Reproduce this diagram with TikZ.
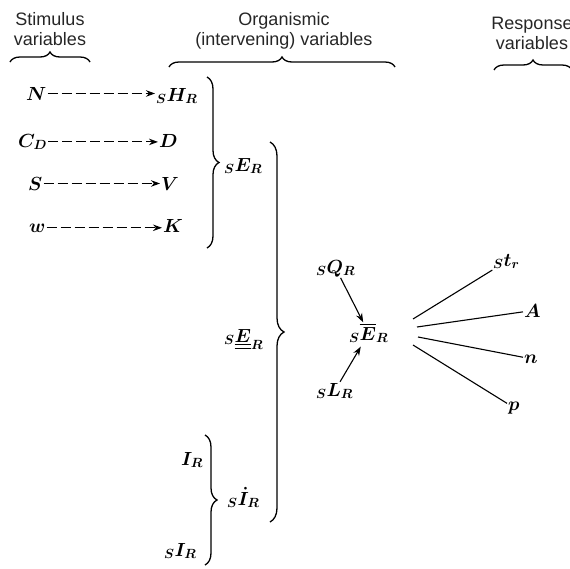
\RequirePackage{fix-cm}
\documentclass[tikz,border=0pt]{standalone}
\usepackage{amsmath}
\usepackage{fontspec}
\newfontfamily\headfont{Liberation Sans}
\usetikzlibrary{arrows.meta,decorations.pathreplacing}

\begin{document}
\begin{tikzpicture}[x=1pt,y=-1pt,>={Stealth[length=9pt,width=6.5pt]},
  var/.style={inner sep=1pt,font=\fontsize{19}{23}\selectfont\boldmath},
  hdr/.style={inner sep=0pt,align=center,anchor=north,text=black!85,font=\headfont\fontsize{18}{20}\selectfont},
  dashto/.style={->,dash pattern=on 10pt off 4pt,line width=1.1pt},
  curly/.style={decorate,decoration={brace,amplitude=#1},line width=1.3pt},
  curly/.default=10]
\useasboundingbox (0,0) rectangle (570,568);

% headings
\node[hdr] (stim) at (50,12) {Stimulus\\variables};
\node[hdr] (org) at (284,12) {Organismic\\(intervening)\ variables};
\node[hdr] (resp) at (532,17) {Response\\variables};
\draw[curly] (10,62) -- (90,62);
\draw[curly] (169,67) -- (395,67);
\draw[curly] (494,70) -- (572,70);

% stimulus variables and what they set up
\node[var,anchor=base west] (n) at (25,100) {$N$};
\node[var,anchor=base west] (h) at (155,101) {${}_{S}H_{R}$};
\node[var,anchor=base west] (cd) at (17,147) {$C_{D}$};
\node[var,anchor=base west] (d) at (158,147) {$D$};
\node[var,anchor=base west] (s) at (27,190) {$S$};
\node[var,anchor=base west] (v) at (160,190) {$V$};
\node[var,anchor=base west] (w) at (28,232) {$w$};
\node[var,anchor=base west] (k) at (162,232) {$K$};
\draw[dashto] (n) -- (n -| h.west);
\draw[dashto] (cd) -- (cd -| d.west);
\draw[dashto] (s) -- (s -| v.west);
\draw[dashto] (w) -- (w -| k.west);

% reaction potential and inhibition
\draw[curly=12] (207,77) -- (207,248);
\node[var,anchor=base west] (er) at (223,171) {${}_{S}E_{R}$};
\draw[curly=14] (270,142) -- (270,522);
\node[var,anchor=base west] (eu) at (223,342) {${}_{S}\underline{\underline{E}}_{R}$};
\node[var,anchor=base west] (ir) at (180,465) {$I_{R}$};
\node[var,anchor=base west] (sir) at (163,556) {${}_{S}I_{R}$};
\draw[curly=12] (205,435) -- (205,565);
\node[var,anchor=base west] (idot) at (226,505) {${}_{S}\dot{I}_{R}$};

% momentary potential
\node[var,anchor=base west] (q) at (315,273) {${}_{S}Q_{R}$};
\node[var,anchor=base west] (eb) at (348,340) {${}_{S}\overline{E}_{R}$};
\node[var,anchor=base west] (l) at (315,396) {${}_{S}L_{R}$};
\draw[->,line width=1.1pt] (q) -- (eb);
\draw[->,line width=1.1pt,shorten >=3pt] (l) -- (eb);

% response variables
\node[var,anchor=base west] (t) at (492,266) {${}_{S}t_{r}$};
\node[var,anchor=base west] (a) at (523,317) {$A$};
\node[var,anchor=base west] (nn) at (523,363) {$n$};
\node[var,anchor=base west] (p) at (507,410) {$p$};
\coordinate (o1) at (413,319);
\coordinate (o2) at (417,327);
\coordinate (o3) at (418,337);
\coordinate (o4) at (413,345);
\draw[line width=1.1pt] (o1) -- (t);
\draw[line width=1.1pt] (o2) -- (a);
\draw[line width=1.1pt] (o3) -- (nn);
\draw[line width=1.1pt] (o4) -- (p);
\end{tikzpicture}
\end{document}
